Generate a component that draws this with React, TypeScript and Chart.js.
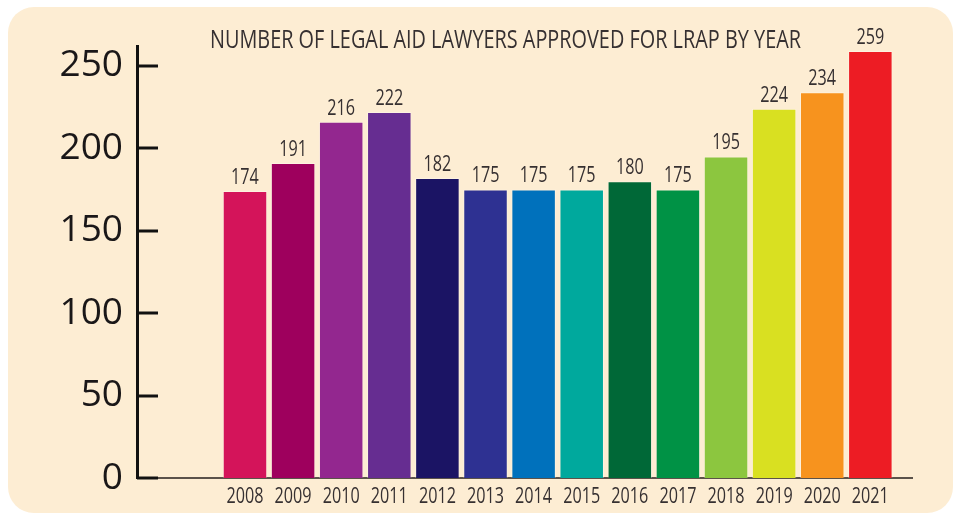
import React, { useEffect, useRef } from 'react';
import { Chart, registerables } from 'chart.js';

Chart.register(...registerables);

const years = [2008, 2009, 2010, 2011, 2012, 2013, 2014, 2015, 2016, 2017, 2018, 2019, 2020, 2021];
const lawyers = [174, 191, 216, 222, 182, 175, 175, 175, 180, 175, 195, 224, 234, 259];
const barColors = [
  '#D4145A', '#9E005D', '#93278F', '#662D91', '#1B1464', '#2E3192', '#0071BC',
  '#00A99D', '#006837', '#009245', '#8CC63F', '#D9E021', '#F7931E', '#ED1C24',
];
const yTicks = [0, 50, 100, 150, 200, 250];
const chartTitle = 'NUMBER OF LEGAL AID LAWYERS APPROVED FOR LRAP BY YEAR';

const NARROW = "'Open Sans', 'Noto Sans', sans-serif";
const TEXT = '#363031';

const bgPlugin = {
  id: 'bgPlugin',
  beforeDraw(chart: any) {
    const { ctx, width, height } = chart;
    ctx.save();
    ctx.fillStyle = '#ffffff';
    ctx.fillRect(0, 0, width, height);
    ctx.fillStyle = '#FDEDD3';
    ctx.beginPath();
    (ctx as any).roundRect(8, 7, 945, 506, 26);
    ctx.fill();
    ctx.restore();
  },
};

function narrowText(ctx: CanvasRenderingContext2D, text: string, x: number, y: number, sx: number) {
  ctx.save();
  ctx.translate(x, y);
  ctx.scale(sx, 1);
  ctx.fillText(text, 0, 0);
  ctx.restore();
}

const decorPlugin = {
  id: 'decorPlugin',
  afterDatasetsDraw(chart: any) {
    const { ctx, chartArea } = chart;
    const yScale = chart.scales.y;
    const xScale = chart.scales.x;
    ctx.save();
    // y tick marks (inside)
    ctx.strokeStyle = '#111111';
    ctx.lineWidth = 3;
    yTicks.forEach((v) => {
      const py = Math.round(yScale.getPixelForValue(v));
      ctx.beginPath();
      ctx.moveTo(chartArea.left, py);
      ctx.lineTo(chartArea.left + 21, py);
      ctx.stroke();
    });
    ctx.fillStyle = TEXT;
    ctx.font = `21px ${NARROW}`;
    ctx.textAlign = 'center';
    ctx.textBaseline = 'alphabetic';
    const sx = 37 / ctx.measureText('2008').width;
    // value labels
    const meta = chart.getDatasetMeta(0);
    meta.data.forEach((bar: any, i: number) => {
      narrowText(ctx, String(lawyers[i]), bar.x, bar.y - 7, sx);
    });
    // year labels along the x scale
    years.forEach((yr) => {
      narrowText(ctx, String(yr), xScale.getPixelForValue(yr), chartArea.bottom + 25, sx);
    });
    // title, fitted to its width in the reference
    ctx.font = `26px ${NARROW}`;
    const w = ctx.measureText(chartTitle).width;
    narrowText(ctx, chartTitle, 505.5, 48, 591 / w);
    ctx.restore();
  },
};

export default function App() {
  const ref = useRef<HTMLCanvasElement | null>(null);
  useEffect(() => {
    if (!ref.current) return;
    const chart = new Chart(ref.current, {
      type: 'bar',
      data: {
        datasets: [
          {
            data: years.map((y, i) => ({ x: y, y: lawyers[i] })),
            backgroundColor: barColors,
            borderColor: 'rgba(255,255,255,0.3)',
            borderWidth: 1,
            barPercentage: 0.925,
            categoryPercentage: 1,
          },
        ],
      },
      options: {
        animation: false,
        responsive: true,
        maintainAspectRatio: false,
        layout: { padding: { top: 46, right: 44, left: 0, bottom: 0 } },
        plugins: {
          legend: { display: false },
          title: { display: false },
          tooltip: { enabled: false },
        },
        scales: {
          x: {
            type: 'linear',
            offset: false,
            min: 2005.755,
            max: 2021.866,
            afterBuildTicks: (scale: any) => {
              scale.ticks = years.map((v) => ({ value: v }));
            },
            afterFit: (scale: any) => {
              scale.height = 37;
            },
            grid: { display: false, drawTicks: false },
            border: { display: true, color: '#5b524a', width: 2 },
            ticks: { display: false },
          },
          y: {
            min: 0,
            max: 262,
            afterBuildTicks: (scale: any) => {
              scale.ticks = yTicks.map((v) => ({ value: v }));
            },
            afterFit: (scale: any) => {
              scale.width = 137;
            },
            grid: { display: false, drawTicks: false },
            border: { display: true, color: '#111111', width: 3 },
            ticks: {
              padding: 14,
              color: '#1a1718',
              font: { family: "'Open Sans', sans-serif", size: 37 },
              callback: (v: any) => String(v),
            },
          },
        },
      },
      plugins: [bgPlugin, decorPlugin],
    });
    return () => chart.destroy();
  }, []);
  return (
    <div style={{ position: 'fixed', left: 0, top: 0, width: 956, height: 515 }}>
      <canvas ref={ref} />
    </div>
  );
}
